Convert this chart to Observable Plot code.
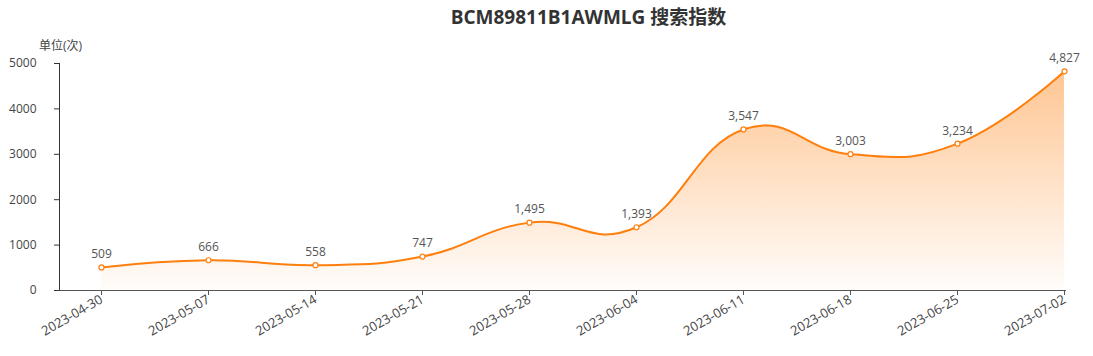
<!DOCTYPE html>
<html>
<head>
<meta charset="utf-8">
<script src="https://cdn.jsdelivr.net/npm/d3@7"></script>
<script src="https://cdn.jsdelivr.net/npm/@observablehq/plot@0.6"></script>
<style>
  body { margin: 0; background: #fff; font-family: "Open Sans", "Noto Sans CJK SC", sans-serif; }
  #title { height: 34px; line-height: 34px; text-align: center; font-size: 19px; font-weight: bold; color: #333; width: 1093px; box-sizing: border-box; padding-left: 84px; font-family: "Open Sans", "Noto Sans CJK SC", sans-serif; }
</style>
</head>
<body>
<div id="title">BCM89811B1AWMLG 搜索指数</div>
<div id="chart"></div>
<script>
const dates = ["2023-04-30","2023-05-07","2023-05-14","2023-05-21","2023-05-28","2023-06-04","2023-06-11","2023-06-18","2023-06-25","2023-07-02"];
const values = [509, 666, 558, 747, 1495, 1393, 3547, 3003, 3234, 4827];
const yTicks = [0, 1000, 2000, 3000, 4000, 5000];
const unitLabel = "单位(次)";

const data = dates.map((d, i) => ({date: d, value: values[i]}));
const orange = "#ff7f0e";
const fmt = d3.format(",");
const font = "'Open Sans', 'Noto Sans CJK SC', sans-serif";

const defs = () => {
  const g = d3.create("svg:defs");
  const lg = g.append("linearGradient").attr("id", "areaGrad").attr("x1", 0).attr("y1", 0).attr("x2", 0).attr("y2", 1);
  lg.append("stop").attr("offset", "0%").attr("stop-color", orange).attr("stop-opacity", 0.45);
  lg.append("stop").attr("offset", "100%").attr("stop-color", orange).attr("stop-opacity", 0.02);
  return g.node();
};

const curve = "cardinal";
const tension = -0.35;

const chart = Plot.plot({
  width: 1093,
  height: 322,
  marginTop: 29,
  marginBottom: 66,
  marginLeft: 59,
  marginRight: 28,
  style: {fontFamily: font, fontSize: "12px", color: "#555", background: "#fff"},
  x: {type: "point", domain: dates, insetLeft: 40, padding: 0, label: null, axis: null},
  y: {domain: [0, 5000], ticks: yTicks, label: null, axis: null},
  marks: [
    defs,
    Plot.ruleY(yTicks.filter(t => t > 0), {x1: dates[0], x2: dates[dates.length - 1], stroke: "#d4d4d4", strokeWidth: 1}),
    Plot.areaY(data, {x: "date", y: "value", curve, tension, fill: "url(#areaGrad)"}),
    Plot.lineY(data, {x: "date", y: "value", curve, tension, stroke: orange, strokeWidth: 2}),
    Plot.dot(data, {x: "date", y: "value", r: 2.5, fill: "#fff", stroke: orange, strokeWidth: 1.2}),
    Plot.text(data, {x: "date", y: "value", text: d => fmt(d.value), dy: -13, fill: "#555", fontSize: 12}),
    Plot.axisY({ticks: yTicks, tickSize: 5, tickPadding: 18, tickFormat: d => String(d), stroke: "#333", fill: "#444", fontSize: 12}),
    Plot.frame({anchor: "left", stroke: "#333"}),
    Plot.frame({anchor: "bottom", stroke: "#555"}),
    Plot.axisX({ticks: dates, tickSize: 5, tickRotate: -30, tickPadding: 3, stroke: "#555", fill: "#444", fontSize: 13}),
    Plot.text([unitLabel], {frameAnchor: "top-left", dx: 1, dy: -22, text: d => d, fill: "#444", fontSize: 12, textAnchor: "middle"})
  ]
});
document.getElementById("chart").appendChild(chart);
</script>
</body>
</html>
